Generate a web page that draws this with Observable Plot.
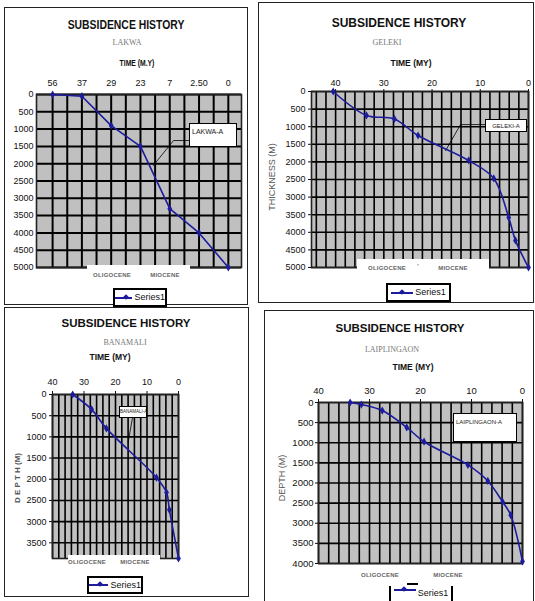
<!DOCTYPE html>
<html><head><meta charset="utf-8">
<script src="https://cdn.jsdelivr.net/npm/d3@7"></script>
<script src="https://cdn.jsdelivr.net/npm/@observablehq/plot@0.6"></script>
<style>
body{margin:0;background:#fff;}
#page{position:relative;width:535px;height:601px;overflow:hidden;font-family:"Liberation Sans",Arial,sans-serif;color:#111;}
.c{position:absolute;transform:translate(-50%,-50%);white-space:nowrap;line-height:1;}
.cn{position:absolute;transform:translate(-50%,-50%) scaleX(0.8);white-space:nowrap;line-height:1;}
.panel{position:absolute;border:1.5px solid #222;box-sizing:border-box;}
.title{font-weight:bold;font-size:12px;color:#111;}
.sub{font-family:"Liberation Serif","Times New Roman",serif;font-size:8px;color:#777;}
.tl{font-weight:bold;font-size:8.5px;}
.white{position:absolute;background:#fff;}
.ep{font-size:6px;font-weight:bold;color:#666;letter-spacing:0.2px;}
.legend{position:absolute;border:2px solid #000;background:#fff;box-sizing:border-box;display:flex;align-items:center;justify-content:center;font-size:9px;line-height:1;}
.sw{position:relative;display:inline-block;width:22px;height:2px;background:#1c1c9c;margin-right:2px;}
.sw::after{content:"";position:absolute;left:8.5px;top:-2px;width:4px;height:4px;background:#1c1c9c;transform:rotate(45deg);}
.note{position:absolute;border:1.2px solid #000;background:#fff;box-sizing:border-box;line-height:1;white-space:nowrap;color:#222;}
.ytitle{position:absolute;transform:translate(-50%,-50%) rotate(-90deg);white-space:nowrap;font-size:9px;color:#555;line-height:1;}
</style>
</head><body><div id="page"></div>
<script>
// ---------- data ----------
const lakwaTimeLabels = ["56", "37", "29", "23", "7", "2.50", "0"];
const lakwaDepth = [0, 50, 900, 1500, 3300, 4000, 5000];

const gelekiTime = [40.5, 33.6, 27.8, 22.9, 12.4, 7.2, 4.1, 2.7, 0];
const gelekiDepth = [0, 680, 780, 1250, 1960, 2470, 3580, 4230, 5000];

const banamaliTime = [33.6, 27.6, 22.9, 7.0, 3.8, 2.9, 0];
const banamaliDepth = [0, 350, 800, 1960, 2310, 2720, 3870];

const laiTime = [33.8, 31.6, 27.5, 22.7, 19.3, 10.7, 6.8, 3.9, 2.3, 0];
const laiDepth = [0, 50, 200, 620, 975, 1550, 1950, 2470, 2800, 3950];

const timeTicks = [40, 30, 20, 10, 0];
const depthTicks5000 = [0, 500, 1000, 1500, 2000, 2500, 3000, 3500, 4000, 4500, 5000];
const depthTicks4000 = [0, 500, 1000, 1500, 2000, 2500, 3000, 3500, 4000];
const depthTicks3500 = [0, 500, 1000, 1500, 2000, 2500, 3000, 3500];

// callout leaders (data units)
const lakwaLeader = [[4.67, 1330], [4.13, 1330], [3.44, 2050]];
const gelekiLeader = [[8.9, 940], [14.1, 940], [17.2, 1680]];
const banamaliLeader = [[14.6, 545], [16.0, 1135]];

const navy = "#1c1c9c";
const page = document.getElementById("page");

function el(cls, html, style) {
  const d = document.createElement("div");
  d.className = cls; d.innerHTML = html;
  Object.assign(d.style, style);
  page.appendChild(d);
  return d;
}
function at(x, y) { return {left: x + "px", top: y + "px"}; }
function rect(l, t, r, b) { return {left: l + "px", top: t + "px", width: (r - l) + "px", height: (b - t) + "px"}; }

function panelPlot(o) {
  const [l, t, r, b] = o.box, [pl, pt, pr, pb] = o.area;
  const series = o.xs.map((x, i) => ({x, y: o.ys[i]}));
  const svg = Plot.plot({
    width: r - l, height: b - t,
    marginLeft: pl - l, marginRight: r - pr, marginTop: pt - t, marginBottom: b - pb,
    style: {background: "transparent", overflow: "visible", fontFamily: o.font, fontSize: o.fontSize + "px", color: "#111"},
    x: Object.assign({axis: "top", label: null, tickSize: o.tsx, tickPadding: o.tpx}, o.xOpts),
    y: {domain: [0, o.yMax], reverse: true, ticks: o.yTicks, tickFormat: d => String(d), tickSize: o.tsy, tickPadding: o.tpy, label: null},
    marks: [
      Plot.frame({fill: "#c0c0c0", stroke: null}),
      Plot.ruleX(o.gridX, {stroke: "#000", strokeWidth: o.gw}),
      Plot.ruleY(o.yTicks, {stroke: "#000", strokeWidth: o.gw}),
      Plot.frame({stroke: "#222", strokeWidth: 1.6}),
      o.leader ? Plot.line(o.leader, {x: d => d[0], y: d => d[1], stroke: "#000", strokeWidth: 0.8}) : null,
      Plot.line(series, {x: "x", y: "y", stroke: navy, strokeWidth: 1.6, curve: o.curve || "linear"}),
      Plot.dot(series, {x: "x", y: "y", symbol: "diamond", r: 2.5, fill: navy, stroke: null})
    ].filter(Boolean)
  });
  svg.style.position = "absolute";
  svg.style.left = l + "px";
  svg.style.top = t + "px";
  page.appendChild(svg);
}

const SANS = '"Liberation Sans",Arial,sans-serif';

// ---------- panel frames ----------
el("panel", "", rect(4, 7, 248, 305));
el("panel", "", rect(258, 2, 534, 303));
el("panel", "", rect(4, 307, 249, 597));
el("panel", "", rect(264, 310, 534, 612));

// ---------- LAKWA ----------
panelPlot({
  box: [5, 66, 247, 280], area: [36, 94, 241, 267],
  xs: lakwaTimeLabels.map((_, i) => i), ys: lakwaDepth,
  xOpts: {domain: [-0.55, 6.45], ticks: d3.range(lakwaTimeLabels.length), tickFormat: i => lakwaTimeLabels[i]},
  yMax: 5000, yTicks: depthTicks5000,
  gridX: d3.range(0, 6.01, 0.5), gw: 2,
  tsx: 0, tpx: 9, tsy: 0, tpy: 3,
  font: SANS, fontSize: 9, leader: lakwaLeader
});
el("cn title", "SUBSIDENCE HISTORY", Object.assign(at(126, 24), {fontSize: "13px"}));
el("c sub", "LAKWA", at(127, 43));
el("cn tl", "TIME (M.Y)", at(137, 63));
el("note", "LAKWA-A", Object.assign(rect(189, 123, 237, 147), {fontSize: "7px", padding: "4px 0 0 2px"}));
el("white", "", rect(87, 265, 190, 283));
el("c ep", "OLIGOCENE", at(112, 275));
el("c ep", "MIOCENE", at(165, 275));
el("legend", '<span class="sw"></span>Series1', rect(113, 288, 167, 307));

// ---------- GELEKI ----------
panelPlot({
  box: [259, 66, 533, 280], area: [311, 91, 528, 267],
  xs: gelekiTime, ys: gelekiDepth,
  xOpts: {domain: [45, 0], ticks: timeTicks, tickFormat: d => String(d)},
  yMax: 5000, yTicks: depthTicks5000,
  gridX: d3.range(0, 45, 2), gw: 1.6,
  tsx: 3, tpx: 3, tsy: 3, tpy: 3,
  font: SANS, fontSize: 9, curve: "catmull-rom", leader: gelekiLeader
});
el("c title", "SUBSIDENCE HISTORY", at(399, 23));
el("c sub", "GELEKI", at(387, 43));
el("c tl", "TIME (MY)", at(411, 63));
el("ytitle", "THICKNESS (M)", at(272, 177));
el("note", "GELEKI-A", Object.assign(rect(485, 119, 527, 132), {fontSize: "6px", textAlign: "center", paddingTop: "2.5px"}));
el("white", "", rect(357, 259, 489, 280));
el("c ep", "OLIGOCENE", at(387, 268));
el("c ep", "'", at(418, 266));
el("c ep", "MIOCENE", at(453, 268));
el("legend", '<span class="sw"></span>Series1', rect(386, 283, 451, 302));

// ---------- BANAMALI ----------
panelPlot({
  box: [5, 364, 248, 575], area: [52, 394, 178, 558],
  xs: banamaliTime, ys: banamaliDepth,
  xOpts: {domain: [40, 0], ticks: timeTicks, tickFormat: d => String(d)},
  yMax: 3870, yTicks: depthTicks3500,
  gridX: d3.range(0, 41, 2), gw: 1.6,
  tsx: 4, tpx: 6, tsy: 3, tpy: 3,
  font: SANS, fontSize: 9, curve: "catmull-rom", leader: banamaliLeader
});
el("c title", "SUBSIDENCE HISTORY", Object.assign(at(126, 324), {fontSize: "11.5px"}));
el("c sub", "BANAMALI", at(125, 343));
el("c tl", "TIME (MY)", at(110, 357));
el("ytitle", "D E P T H (M)", Object.assign(at(18, 478), {fontWeight: "bold", fontSize: "8px"}));
el("note", "BANAMALI-A", Object.assign(rect(119, 406, 147, 418), {fontSize: "4.5px", textAlign: "center", paddingTop: "3px"}));
el("white", "", rect(68, 555, 160, 570));
el("c ep", "OLIGOCENE", at(87, 562));
el("c ep", "MIOCENE", at(135, 562));
el("legend", '<span class="sw"></span>Series1', rect(87, 576, 143, 594));

// ---------- LAIPLINGAON ----------
panelPlot({
  box: [265, 372, 533, 572], area: [318, 402, 522, 563],
  xs: laiTime, ys: laiDepth,
  xOpts: {domain: [40, 0], ticks: timeTicks, tickFormat: d => String(d)},
  yMax: 4000, yTicks: depthTicks4000,
  gridX: d3.range(0, 41, 2), gw: 1.6,
  tsx: 4, tpx: 5, tsy: 3, tpy: 2,
  font: SANS, fontSize: 9.5, curve: "catmull-rom"
});
el("c title", "SUBSIDENCE HISTORY", Object.assign(at(400, 329), {fontSize: "11.5px"}));
el("c sub", "LAIPLINGAON", at(392, 350));
el("c tl", "TIME (MY)", at(413, 367));
el("ytitle", "DEPTH (M)", at(282, 478));
el("note", "LAIPLINGAON-A", Object.assign(rect(453, 413, 517, 442), {fontSize: "6px", padding: "5px 0 0 2px"}));
el("c ep", "OLIGOCENE", at(380, 575));
el("c ep", "MIOCENE", at(448, 575));
el("white", "", Object.assign(rect(407, 583, 418, 584.5), {background: "#000"}));
el("legend", '<span class="sw"></span>Series1', Object.assign(rect(389, 586, 453, 612), {borderTop: "none", borderBottom: "none", alignItems: "flex-start", paddingTop: "3px"}));
</script>
</body></html>
